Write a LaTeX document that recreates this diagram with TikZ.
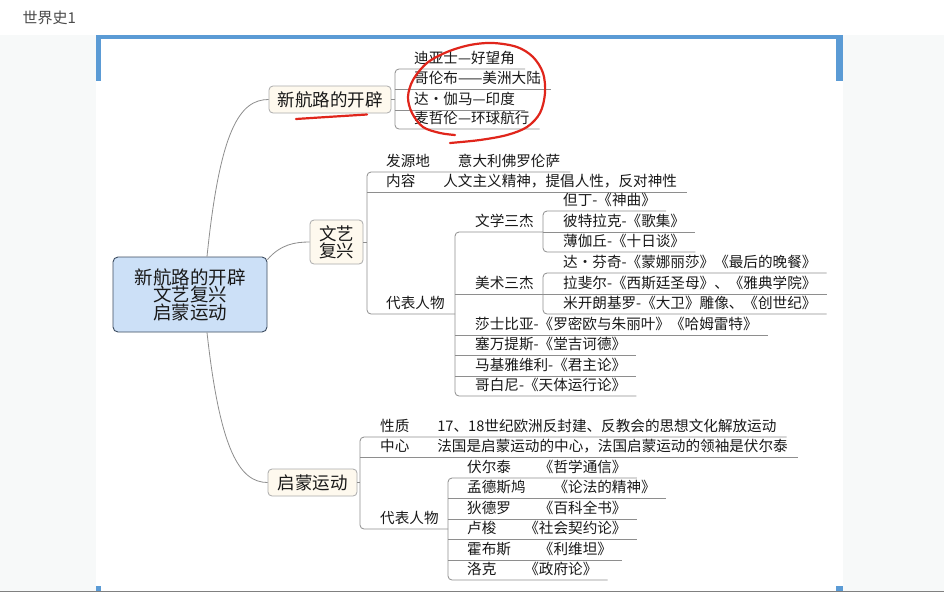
\documentclass[tikz,border=0pt]{standalone}
\usepackage{fontspec}
\setmainfont{Noto Sans CJK SC}
\definecolor{lineg}{HTML}{8E8E8E}
\definecolor{topicfill}{HTML}{FEF9EE}
\definecolor{topicline}{HTML}{ABABAB}
\definecolor{hubfill}{HTML}{CCE0F7}
\definecolor{hubline}{HTML}{3C4C60}
\definecolor{frameblue}{HTML}{5B9BD5}
\definecolor{panel}{HTML}{F7F9F9}
\definecolor{inkred}{HTML}{E0251B}
\begin{document}
\begin{tikzpicture}[x=1pt, y=-1pt,
  hubbox/.style={draw=hubline, fill=hubfill, line width=0.9pt, rounded corners=5pt,
    minimum width=154pt, minimum height=75pt, align=center, text=black!90,
    font=\fontsize{18.5}{17.5}\selectfont},
  topic/.style={draw=topicline, fill=topicfill, line width=0.8pt, rounded corners=4pt,
    align=center, text=black!90, font=\fontsize{17.5}{17}\selectfont},
  leaf/.style={anchor=south west, inner xsep=10pt, inner ysep=3pt, text height=11pt,
    text depth=2pt, text=black!90, font=\fontsize{14.6}{16}\selectfont},
  bline/.style={draw=lineg, line width=0.8pt, rounded corners=4pt},
  cline/.style={draw=lineg, line width=0.8pt},
  ink/.style={draw=inkred, line width=2.2pt, line cap=round, line join=round}]
  % fondo y marco
  \fill[white] (0,0) rectangle (944,592);
  \fill[panel] (0,35) rectangle (944,592);
  \fill[white] (96,35) rectangle (843,592);
  \fill[frameblue] (96,35) rectangle (843,39);
  \fill[frameblue] (96,35) rectangle (101,81);
  \fill[frameblue] (836,35) rectangle (843,81);
  \fill[frameblue] (96,586) rectangle (101,592);
  \fill[frameblue] (836,586) rectangle (843,592);
  \fill[black!50] (0,590.5) rectangle (944,592);
  \useasboundingbox (0,0) rectangle (944,592);
  \node[anchor=west, text=black!70, font=\fontsize{15}{15}\selectfont] (title) at (19,18) {世界史1};
  % nodo central y temas
  \node[hubbox] (hub) at (190,294.5) {新航路的开辟\\文艺复兴\\启蒙运动};
  \node[topic, minimum width=122pt, minimum height=27pt] (xhl) at (330,99.5) {新航路的开辟};
  \node[topic, minimum width=53pt, minimum height=44pt] (wyfx) at (336.5,242) {文艺\\复兴};
  \node[topic, minimum width=89pt, minimum height=27pt] (qmyd) at (312.5,482.5) {启蒙运动};
  \draw[cline] ([xshift=17pt]hub.north) .. controls +(13,-127) and +(-29,0) .. (xhl.west);
  \draw[cline] ([yshift=-3pt]hub.north east) .. controls +(13,-15) and +(-15,0) .. (wyfx.west);
  \draw[cline] ([xshift=17pt]hub.south) .. controls +(13,118) and +(-28,0) .. (qmyd.west);
  % ejes verticales
  \coordinate (s1) at (395,0);
  \coordinate (s2) at (367,0);
  \coordinate (s3) at (455,0);
  \coordinate (s4) at (543,0);
  \coordinate (s6) at (360,0);
  \coordinate (s7) at (448,0);
  % 新航路的开辟
  \node[leaf] (n1) at (404,69) {迪亚士—好望角};
  \node[leaf] (n2) at (404,89) {哥伦布——美洲大陆};
  \node[leaf] (n3) at (404,110) {达・伽马—印度};
  \node[leaf] (n4) at (404,129) {麦哲伦—环球航行};
  \draw[bline] (xhl.east) -- (xhl.east -| s1);
  \draw[bline] (n1.south east) -- (n1.south -| s1) -- (n4.south -| s1) -- (n4.south east);
  \draw[bline] (n2.south -| s1) -- (n2.south east);
  \draw[bline] (n3.south -| s1) -- (n3.south east);
  % 文艺复兴
  \node[leaf] (r1) at (376,172) {发源地\hspace*{28pt}意大利佛罗伦萨};
  \node[leaf] (r2) at (376,192) {内容\hspace*{28pt}人文主义精神，提倡人性，反对神性};
  \node[leaf] (r3) at (376,314) {代表人物};
  \draw[bline] (wyfx.east) -- (wyfx.east -| s2);
  \draw[bline] (r1.south east) -- (r1.south -| s2) -- (r3.south -| s2) -- (r3.south -| s3);
  \draw[bline] (r2.south -| s2) -- (r2.south east);
  \node[leaf] (g1) at (465,232) {文学三杰};
  \node[leaf] (g2) at (465,294) {美术三杰};
  \node[leaf] (g3) at (465,335) {莎士比亚-《罗密欧与朱丽叶》《哈姆雷特》};
  \node[leaf] (g4) at (465,355) {塞万提斯-《堂吉诃德》};
  \node[leaf] (g5) at (465,376) {马基雅维利-《君主论》};
  \node[leaf] (g6) at (465,396) {哥白尼-《天体运行论》};
  \draw[bline] (g1.south -| s4) -- (g1.south -| s3) -- (g6.south -| s3) -- (g6.south east);
  \draw[bline] (g2.south -| s3) -- (g2.south -| s4);
  \draw[bline] (g3.south -| s3) -- (g3.south east);
  \draw[bline] (g4.south -| s3) -- (g4.south east);
  \draw[bline] (g5.south -| s3) -- (g5.south east);
  \node[leaf] (w1) at (553,211) {但丁-《神曲》};
  \node[leaf] (w2) at (553,232) {彼特拉克-《歌集》};
  \node[leaf] (w3) at (553,252) {薄伽丘-《十日谈》};
  \draw[bline] (w1.south east) -- (w1.south -| s4) -- (w3.south -| s4) -- (w3.south east);
  \draw[bline] (w2.south -| s4) -- (w2.south east);
  \node[leaf] (m1) at (553,273) {达・芬奇-《蒙娜丽莎》《最后的晚餐》};
  \node[leaf] (m2) at (553,294) {拉斐尔-《西斯廷圣母》、《雅典学院》};
  \node[leaf] (m3) at (553,314) {米开朗基罗-《大卫》雕像、《创世纪》};
  \draw[bline] (m1.south east) -- (m1.south -| s4) -- (m3.south -| s4) -- (m3.south east);
  \draw[bline] (m2.south -| s4) -- (m2.south east);
  % 启蒙运动
  \node[leaf] (q1) at (370,437) {性质\hspace*{28pt}17、18世纪欧洲反封建、反教会的思想文化解放运动};
  \node[leaf] (q2) at (370,457) {中心\hspace*{28pt}法国是启蒙运动的中心，法国启蒙运动的领袖是伏尔泰};
  \node[leaf] (q3) at (370,529) {代表人物};
  \draw[bline] (qmyd.east) -- (qmyd.east -| s6);
  \draw[bline] (q1.south east) -- (q1.south -| s6) -- (q3.south -| s6) -- (q3.south -| s7);
  \draw[bline] (q2.south -| s6) -- (q2.south east);
  \node[leaf] (p1) at (457,478) {伏尔泰\hspace*{28pt}《哲学通信》};
  \node[leaf] (p2) at (457,498) {孟德斯鸠\hspace*{28pt}《论法的精神》};
  \node[leaf] (p3) at (457,519) {狄德罗\hspace*{28pt}《百科全书》};
  \node[leaf] (p4) at (457,539) {卢梭\hspace*{28pt}《社会契约论》};
  \node[leaf] (p5) at (457,560) {霍布斯\hspace*{28pt}《利维坦》};
  \node[leaf] (p6) at (457,580) {洛克\hspace*{28pt}《政府论》};
  \draw[bline] (p1.south east) -- (p1.south -| s7) -- (p6.south -| s7) -- (p6.south east);
  \draw[bline] (p2.south -| s7) -- (p2.south east);
  \draw[bline] (p3.south -| s7) -- (p3.south east);
  \draw[bline] (p4.south -| s7) -- (p4.south east);
  \draw[bline] (p5.south -| s7) -- (p5.south east);
  % marcas rojas
  \draw[ink] plot[smooth, tension=0.55] coordinates {(450,143) (480,140) (507,135) (527,127)
    (540,113) (545,93) (543,73) (533,57) (517,47) (493,43) (470,45) (447,52) (427,63)
    (413,80) (408,97) (412,113) (423,127) (440,133) (455,135)};
  \draw[ink] plot[smooth] coordinates {(296,119) (327,117) (367,114.5)};
\end{tikzpicture}
\end{document}
